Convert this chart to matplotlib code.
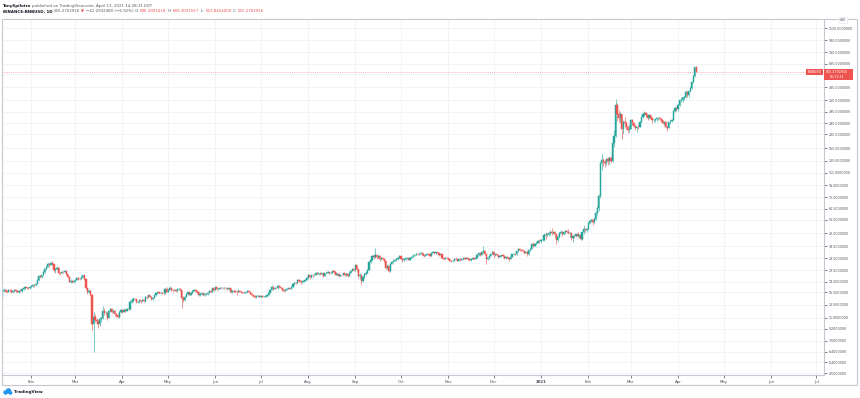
import matplotlib
matplotlib.use("Agg")
import matplotlib.pyplot as plt
import matplotlib.dates as mdates
import matplotlib.patches as patches
import numpy as np
import pandas as pd

# BINANCE:BNBUSD daily candles, 2020-01-13 .. 2021-04-13 (one list per month)
first_open = 15.3
last_open = 596.3901418

close_jan20 = [16.8, 17.2, 17.0, 16.6, 17.2, 17.0, 16.6, 16.9, 17.1, 16.8, 16.5, 16.9, 16.8, 17.3, 17.6, 17.9, 17.7, 17.6, 18.0]
high_jan20 = [17.2, 17.6, 17.5, 17.1, 17.4, 17.5, 17.1, 17.2, 17.4, 17.2, 16.9, 17.1, 17.1, 17.5, 17.9, 18.2, 18.1, 17.9, 18.3]
low_jan20 = [15.1, 16.6, 16.5, 16.2, 16.5, 16.7, 16.3, 16.4, 16.7, 16.5, 16.2, 16.4, 16.5, 16.7, 17.1, 17.4, 17.4, 17.3, 17.5]

close_feb20 = [18.3, 18.5, 18.4, 18.8, 20.1, 21.4, 21.0, 21.6, 22.8, 23.9, 24.9, 26.1, 25.6, 26.4, 26.0, 23.4, 23.9, 24.5, 22.6, 22.4,
               22.9, 22.7, 23.3, 22.0, 21.2, 19.6, 19.9, 19.6, 19.7]
high_feb20 = [18.5, 18.8, 18.7, 19.0, 20.4, 21.8, 21.6, 21.8, 23.1, 24.3, 25.2, 26.6, 26.4, 26.8, 27.3, 26.1, 24.3, 25.0, 24.8, 22.9,
              23.2, 23.0, 23.6, 23.4, 22.1, 21.4, 20.3, 20.1, 20.2]
low_feb20 = [17.8, 18.1, 18.1, 18.2, 18.7, 19.9, 20.6, 20.8, 21.5, 22.5, 23.7, 24.7, 24.9, 25.4, 25.6, 22.9, 22.6, 23.6, 22.2, 21.9,
             22.2, 22.3, 22.5, 21.7, 20.8, 19.3, 19.2, 19.2, 19.2]

close_mar20 = [20.2, 20.7, 20.5, 20.4, 21.0, 21.6, 20.4, 17.6, 16.6, 16.9, 15.9, 9.9, 11.2, 10.6, 10.4, 9.9, 10.8, 10.9, 12.3, 11.8,
               11.9, 11.0, 12.2, 12.6, 12.1, 12.2, 11.6, 11.5, 11.1, 12.1, 12.4]
high_mar20 = [20.5, 21.0, 21.0, 20.8, 21.3, 21.9, 21.7, 20.5, 17.8, 17.3, 17.1, 16.0, 12.0, 11.6, 11.0, 10.6, 11.2, 11.2, 13.3, 12.9,
              12.3, 12.0, 12.5, 12.9, 12.8, 12.6, 12.4, 11.8, 11.6, 12.3, 12.7]
low_mar20 = [19.5, 20.0, 20.1, 20.1, 20.3, 20.9, 20.0, 17.3, 16.0, 16.2, 15.5, 9.0, 6.4, 10.3, 9.9, 9.4, 9.7, 10.3, 10.8, 11.4,
             11.4, 10.6, 10.9, 12.0, 11.8, 11.9, 11.3, 11.1, 10.9, 11.0, 11.9]

close_apr20 = [12.1, 12.4, 12.3, 12.7, 12.6, 14.2, 14.3, 14.9, 14.8, 14.1, 14.2, 14.5, 14.3, 14.6, 14.4, 15.3, 15.2, 15.8, 15.4, 14.9,
               15.1, 15.7, 16.2, 16.5, 16.3, 16.4, 16.3, 16.2, 17.4, 16.7]
high_apr20 = [12.6, 12.8, 12.6, 12.9, 12.9, 14.5, 14.9, 15.2, 15.1, 14.9, 14.4, 14.7, 14.6, 14.8, 14.8, 15.5, 15.6, 16.0, 15.9, 15.5,
              15.3, 15.9, 16.4, 16.7, 16.6, 16.7, 16.6, 16.5, 17.6, 17.9]
low_apr20 = [11.8, 12.0, 12.0, 12.2, 12.4, 12.5, 13.9, 14.2, 14.5, 13.9, 13.9, 14.0, 13.9, 14.1, 14.2, 14.2, 14.9, 15.0, 15.2, 14.6,
             14.7, 15.0, 15.5, 16.0, 16.1, 16.1, 16.0, 15.9, 16.1, 16.5]

close_may20 = [17.2, 17.6, 17.1, 17.0, 17.2, 16.9, 17.3, 17.5, 17.0, 15.0, 14.6, 15.4, 16.0, 16.5, 15.9, 16.4, 16.9, 17.2, 16.8, 16.5,
               15.7, 16.1, 16.2, 15.8, 16.0, 16.0, 16.4, 16.9, 16.7, 17.6, 17.1]
high_may20 = [17.5, 18.2, 17.7, 17.3, 17.5, 17.4, 17.6, 17.8, 17.6, 17.1, 15.6, 15.6, 16.2, 16.7, 16.6, 16.6, 17.1, 17.4, 17.4, 16.9,
              16.6, 16.3, 16.4, 16.3, 16.2, 16.3, 16.6, 17.0, 17.0, 17.8, 17.8]
low_may20 = [16.5, 17.0, 16.9, 16.7, 16.8, 16.6, 16.8, 17.1, 16.8, 12.8, 14.1, 14.4, 15.2, 15.8, 15.7, 15.8, 16.3, 16.8, 16.6, 16.3,
             15.5, 15.5, 15.9, 15.6, 15.6, 15.8, 15.9, 16.3, 16.5, 16.7, 16.9]

close_jun20 = [17.9, 17.3, 17.5, 17.8, 17.6, 17.7, 17.6, 17.6, 17.4, 17.6, 16.5, 16.8, 16.9, 16.7, 16.6, 16.9, 16.7, 16.6, 16.4, 16.4,
               16.5, 16.8, 16.7, 16.1, 15.7, 15.5, 15.2, 15.5, 15.6, 15.4]
high_jun20 = [18.1, 18.0, 17.6, 17.9, 17.9, 17.8, 17.9, 17.8, 17.7, 17.8, 17.7, 17.0, 17.1, 17.0, 17.0, 17.3, 17.0, 16.9, 16.7, 16.6,
              16.7, 17.0, 17.0, 16.9, 16.2, 15.8, 15.7, 15.7, 15.8, 15.7]
low_jun20 = [17.0, 17.1, 17.2, 17.4, 17.4, 17.5, 17.4, 17.4, 17.2, 17.3, 16.2, 16.2, 16.6, 16.5, 15.9, 16.5, 16.5, 16.4, 16.2, 16.2,
             16.3, 16.4, 16.5, 16.0, 15.5, 15.3, 15.0, 15.1, 15.3, 15.2]

close_jul20 = [15.6, 15.4, 15.4, 15.6, 15.7, 16.3, 17.1, 18.0, 17.5, 17.7, 17.6, 18.3, 17.9, 17.7, 17.1, 16.9, 17.2, 17.5, 17.6, 17.5,
               18.0, 18.8, 19.2, 19.1, 20.2, 19.8, 19.5, 19.6, 19.9, 20.2, 20.9]
high_jul20 = [15.8, 15.7, 15.6, 15.7, 15.9, 16.5, 17.3, 18.4, 18.1, 17.9, 17.8, 18.5, 18.5, 18.0, 17.8, 17.3, 17.4, 17.7, 17.8, 17.7,
              18.3, 19.0, 19.5, 19.5, 20.5, 20.4, 20.2, 20.1, 20.2, 20.5, 21.4]
low_jul20 = [15.2, 15.2, 15.2, 15.3, 15.4, 15.6, 16.2, 17.0, 17.2, 17.3, 17.4, 17.5, 17.6, 17.4, 16.9, 16.6, 16.8, 17.1, 17.4, 17.3,
             17.4, 17.9, 18.6, 18.7, 19.0, 19.5, 18.8, 19.0, 19.4, 19.7, 20.1]

close_aug20 = [21.6, 21.0, 21.8, 21.6, 21.8, 22.6, 22.1, 22.4, 22.0, 22.3, 21.5, 22.3, 22.6, 22.8, 22.5, 22.6, 23.3, 22.8, 21.9, 22.2,
               21.4, 21.8, 21.7, 22.3, 21.6, 22.2, 21.5, 22.6, 23.3, 24.0, 23.4]
high_aug20 = [22.0, 21.9, 21.9, 22.0, 22.1, 22.8, 22.8, 22.6, 22.5, 22.5, 22.5, 22.5, 22.8, 23.1, 22.9, 22.8, 23.6, 23.4, 22.9, 22.4,
              22.3, 21.9, 21.9, 22.5, 22.4, 22.4, 22.3, 22.8, 23.5, 24.3, 24.1]
low_aug20 = [20.5, 20.4, 20.9, 21.2, 21.3, 21.6, 21.8, 21.9, 21.7, 21.8, 21.2, 21.3, 22.0, 22.4, 22.2, 22.2, 22.4, 22.5, 21.6, 21.7,
             21.2, 21.3, 21.5, 21.6, 21.3, 21.4, 21.2, 21.4, 22.5, 23.1, 23.1]

close_sep20 = [25.4, 23.8, 21.3, 21.7, 19.8, 21.0, 22.1, 22.6, 23.6, 26.8, 27.6, 29.3, 28.9, 29.8, 28.8, 29.5, 27.9, 28.5, 28.3, 27.4,
               24.4, 25.1, 23.2, 26.1, 26.6, 27.3, 27.6, 28.0, 28.6, 29.4]
high_sep20 = [25.9, 25.6, 24.1, 22.4, 21.9, 21.3, 22.4, 23.3, 24.0, 27.3, 28.3, 29.8, 30.4, 33.5, 30.1, 30.2, 29.9, 29.2, 28.9, 28.5,
              27.6, 25.9, 25.4, 26.5, 27.2, 27.5, 27.9, 28.4, 28.9, 29.7]
low_sep20 = [23.2, 23.1, 20.9, 20.5, 18.5, 19.6, 20.8, 21.8, 22.4, 23.5, 26.4, 27.3, 28.1, 28.6, 28.3, 28.4, 27.4, 27.6, 27.8, 26.9,
             23.8, 23.9, 22.7, 23.0, 25.8, 26.4, 27.0, 27.4, 27.8, 28.4]

close_oct20 = [28.3, 27.5, 27.9, 28.4, 28.7, 27.8, 28.6, 29.1, 29.7, 29.9, 30.4, 30.3, 30.6, 31.1, 30.5, 29.6, 29.8, 30.5, 30.3, 29.6,
               31.0, 31.5, 30.8, 31.2, 30.7, 29.8, 30.2, 28.5, 28.3, 28.7, 28.5]
high_oct20 = [29.6, 28.5, 28.1, 28.6, 29.0, 28.9, 28.8, 29.4, 30.0, 30.2, 30.7, 30.7, 30.9, 31.4, 31.2, 30.6, 30.0, 30.8, 30.8, 30.4,
              31.5, 32.0, 31.6, 31.4, 31.3, 30.9, 30.6, 30.4, 28.8, 29.0, 29.1]
low_oct20 = [27.9, 26.9, 27.3, 27.8, 28.2, 27.5, 27.6, 28.4, 28.9, 29.4, 29.8, 29.9, 30.1, 30.4, 30.1, 29.2, 29.4, 29.7, 29.9, 29.2,
             29.4, 30.7, 30.5, 30.6, 30.4, 29.5, 29.6, 28.1, 27.8, 28.0, 28.2]

close_nov20 = [28.1, 27.3, 27.0, 27.4, 28.3, 28.1, 27.4, 28.0, 27.7, 28.0, 28.6, 28.3, 28.6, 28.0, 27.6, 27.9, 28.4, 28.3, 28.7, 29.7,
               30.7, 30.1, 31.5, 31.9, 30.2, 28.3, 28.4, 29.6, 30.4, 31.3]
high_nov20 = [28.7, 28.2, 27.6, 27.7, 28.6, 28.9, 28.3, 28.2, 28.4, 28.3, 28.9, 28.9, 28.9, 28.7, 28.1, 28.1, 28.7, 28.9, 28.9, 30.1,
              31.2, 31.0, 32.1, 34.6, 32.3, 30.6, 29.2, 29.8, 30.6, 31.7]
low_nov20 = [27.8, 27.0, 26.6, 26.8, 27.2, 27.6, 27.0, 27.2, 27.4, 27.5, 27.8, 28.0, 28.1, 27.8, 27.3, 27.4, 27.8, 28.0, 28.1, 28.5,
             29.5, 29.6, 29.9, 31.0, 29.7, 26.1, 27.6, 28.3, 29.4, 30.2]

close_dec20 = [30.0, 30.4, 30.1, 29.0, 29.6, 29.9, 29.5, 28.4, 28.9, 28.6, 28.0, 28.9, 30.2, 30.5, 30.3, 31.7, 32.8, 32.6, 32.2, 31.8,
               31.0, 31.6, 30.3, 32.2, 33.0, 35.6, 34.5, 35.8, 36.4, 37.6, 37.4]
high_dec20 = [31.7, 30.7, 30.6, 30.3, 29.8, 30.1, 30.0, 29.7, 29.1, 29.1, 28.7, 29.0, 30.4, 30.8, 30.7, 31.9, 33.5, 33.4, 32.9, 32.6,
              32.2, 31.9, 31.9, 32.6, 33.4, 36.2, 36.6, 36.3, 36.9, 38.1, 38.5]
low_dec20 = [28.7, 29.6, 29.6, 28.6, 28.8, 29.3, 29.2, 28.2, 28.2, 28.2, 27.3, 27.9, 28.8, 29.9, 29.9, 30.1, 31.5, 32.1, 31.9, 31.3,
             30.3, 30.8, 29.6, 30.1, 32.0, 32.8, 33.9, 34.3, 35.5, 36.1, 36.5]

close_jan21 = [37.9, 38.3, 41.2, 40.9, 41.7, 42.3, 43.5, 42.6, 43.3, 41.9, 38.2, 40.1, 42.4, 43.2, 42.1, 42.9, 43.8, 43.5, 42.3, 42.6,
               39.0, 40.5, 40.3, 41.6, 40.7, 41.3, 38.8, 42.9, 45.3, 44.4, 45.6]
high_jan21 = [38.4, 39.2, 42.4, 43.0, 42.0, 43.1, 44.7, 46.4, 44.1, 44.2, 42.0, 41.1, 42.9, 44.8, 43.6, 43.9, 44.4, 44.8, 45.6, 43.2,
              42.8, 40.9, 41.2, 42.0, 43.4, 41.7, 41.3, 43.2, 48.1, 46.0, 46.1]
low_jan21 = [36.3, 37.2, 37.7, 38.5, 40.3, 40.6, 41.5, 41.2, 41.9, 39.4, 35.6, 37.0, 39.1, 42.0, 40.5, 41.0, 42.1, 42.4, 41.7, 39.9,
             37.9, 36.9, 39.5, 39.6, 40.1, 39.5, 37.9, 38.1, 41.7, 43.1, 43.5]

close_feb21 = [49.9, 51.2, 52.0, 50.6, 53.1, 58.9, 63.6, 76.9, 129.5, 135.5, 131.0, 129.6, 138.3, 133.8, 141.8, 134.6, 178.0, 200.0,
               330.0, 284.0, 266.1, 282.9, 224.5, 250.1, 246.2, 232.0, 221.6, 224.7]
high_feb21 = [50.9, 53.0, 53.2, 53.6, 54.0, 60.3, 65.9, 79.8, 132.0, 150.0, 140.6, 135.5, 139.9, 142.0, 144.5, 146.3, 184.0, 221.0,
              360.0, 338.0, 305.0, 294.0, 284.0, 258.0, 271.0, 252.0, 240.0, 238.0]
low_feb21 = [44.5, 48.7, 50.3, 48.2, 49.9, 52.6, 57.1, 60.8, 74.0, 117.0, 124.0, 121.0, 126.0, 126.5, 128.0, 130.0, 132.0, 168.0,
             198.0, 252.0, 248.0, 245.0, 190.0, 205.0, 231.0, 224.0, 209.0, 213.0]

close_mar21 = [256.3, 246.1, 235.0, 226.2, 231.4, 230.8, 250.2, 270.5, 283.0, 289.5, 280.0, 268.2, 277.5, 266.1, 256.3, 258.2,
               260.1, 264.5, 266.3, 263.0, 257.9, 246.4, 248.2, 232.1, 228.4, 249.0, 253.5, 258.1, 296.2, 311.0, 308.2]
high_mar21 = [262.0, 262.5, 251.0, 242.0, 236.0, 240.5, 252.0, 276.0, 288.0, 296.0, 291.0, 282.0, 281.0, 281.5, 271.0, 262.0,
              264.0, 269.0, 272.0, 270.0, 268.0, 260.0, 254.0, 255.0, 236.0, 251.0, 258.0, 262.0, 300.0, 318.0, 318.0]
low_mar21 = [222.0, 240.0, 230.0, 221.0, 212.0, 222.0, 229.0, 248.0, 265.0, 276.0, 270.0, 259.0, 262.0, 262.0, 246.0, 248.0,
             250.0, 255.0, 258.0, 255.0, 250.0, 241.0, 238.0, 228.0, 218.0, 226.0, 244.0, 250.0, 257.0, 291.0, 300.0]

close_apr21 = [330.1, 352.4, 357.0, 364.3, 372.8, 404.5, 383.4, 408.8, 432.0, 470.0, 520.0, 596.56, 555.2702916]
high_apr21 = [335.0, 356.0, 371.0, 370.0, 378.0, 415.0, 410.0, 412.0, 436.0, 478.0, 530.0, 604.0, 609.3031557]
low_apr21 = [296.0, 325.0, 343.0, 345.0, 355.0, 367.0, 370.0, 375.0, 403.0, 425.0, 465.0, 512.0, 553.8454000]

# Price scale labels shown by TradingView (535 is hidden behind the last-price tag)
price_ticks = [4.55, 5.4, 6.4, 7.6, 9.2, 11.0, 13.5, 16.5, 19.5, 23.5, 28.5, 34.5, 42.5, 52.5, 62.5, 75.0, 91.0, 111.0,
               135.0, 165.0, 205.0, 245.0, 295.0, 355.0, 435.0, 535.0, 635.0, 760.0, 920.0, 1120.0]
hidden_ticks = [535.0]
month_ticks = ["2020-02-01", "2020-03-01", "2020-04-01", "2020-05-01", "2020-06-01", "2020-07-01", "2020-08-01",
               "2020-09-01", "2020-10-01", "2020-11-01", "2020-12-01", "2021-01-01", "2021-02-01", "2021-03-01",
               "2021-04-01", "2021-05-01", "2021-06-01", "2021-07-01"]
month_labels = ["Feb", "Mar", "Apr", "May", "Jun", "Jul", "Aug", "Sep", "Oct", "Nov", "Dec", "2021",
                "Feb", "Mar", "Apr", "May", "Jun", "Jul"]

# Colors
UP_COLOR = "#26a69a"
DOWN_COLOR = "#ef5350"
GRID_COLOR = "#f0f3f8"
TEXT_COLOR = "#4a4e5a"
BORDER_COLOR = "#c5c8d0"

W, H = 860, 398

closes = np.array(close_jan20 + close_feb20 + close_mar20 + close_apr20 + close_may20 + close_jun20 + close_jul20 +
                  close_aug20 + close_sep20 + close_oct20 + close_nov20 + close_dec20 + close_jan21 + close_feb21 +
                  close_mar21 + close_apr21)
highs = np.array(high_jan20 + high_feb20 + high_mar20 + high_apr20 + high_may20 + high_jun20 + high_jul20 +
                 high_aug20 + high_sep20 + high_oct20 + high_nov20 + high_dec20 + high_jan21 + high_feb21 +
                 high_mar21 + high_apr21)
lows = np.array(low_jan20 + low_feb20 + low_mar20 + low_apr20 + low_may20 + low_jun20 + low_jul20 +
                low_aug20 + low_sep20 + low_oct20 + low_nov20 + low_dec20 + low_jan21 + low_feb21 +
                low_mar21 + low_apr21)

# Crypto trades 24/7, so each day opens at the previous close
opens = np.concatenate([[first_open], closes[:-1]])
opens[-1] = last_open
highs = np.maximum(highs, np.maximum(opens, closes))
lows = np.minimum(lows, np.minimum(opens, closes))

dates = pd.date_range("2020-01-13", periods=len(closes), freq="D")
x = mdates.date2num(dates.to_pydatetime())

plt.rcParams["font.family"] = ["DejaVu Sans"]

fig = plt.figure(figsize=(W / 100, H / 100), dpi=100)
fig.set_facecolor("white")


# pixel helpers (origin top-left like the screenshot)
def fx(px):
    return px / W


def fy(py):
    return 1 - py / H


ax = fig.add_axes([fx(2), fy(375), fx(824) - fx(2), fy(19) - fy(375)])
ax.set_facecolor("white")
ax.set_yscale("log")

# Candles: wicks then bodies
up = closes >= opens
colors = np.where(up, UP_COLOR, DOWN_COLOR)
ax.vlines(x, lows, highs, colors=colors, linewidth=0.6, alpha=0.7, zorder=3)
body_low = np.minimum(opens, closes)
body_h = np.abs(closes - opens)
ax.bar(x, body_h, bottom=body_low, width=0.8, color=colors, edgecolor=colors, linewidth=0.35, zorder=4)

# Axis limits calibrated to the screenshot (1.522 px per day, 144.3 px per decade)
base = mdates.date2num(pd.Timestamp("2021-01-01").to_pydatetime())
ax.set_xlim(base - 539 / 1.522, base + 283 / 1.522)
ax.set_ylim(10 ** (np.log10(1120) - 347 / 144.3), 10 ** (np.log10(1120) + 9 / 144.3))

# Grid
for p in price_ticks:
    ax.axhline(p, color=GRID_COLOR, linewidth=0.7, zorder=0)
tick_x = mdates.date2num(pd.to_datetime(month_ticks).to_pydatetime())
for t in tick_x:
    ax.axvline(t, color=GRID_COLOR, linewidth=0.7, zorder=0)

# Price scale on the right
ax.yaxis.tick_right()
ax.set_yticks(price_ticks)
ax.set_yticklabels(["" if p in hidden_ticks else f"{p:.7f}" for p in price_ticks])
ax.yaxis.set_minor_locator(matplotlib.ticker.NullLocator())
ax.tick_params(axis="y", which="both", right=True, left=False, length=2, width=0.5, pad=1.5,
               labelsize=2.3, colors=TEXT_COLOR)

# Month axis
ax.set_xticks(tick_x)
ax.set_xticklabels(month_labels)
ax.tick_params(axis="x", length=2, width=0.5, pad=1.5, labelsize=2.8, colors=TEXT_COLOR)
for lbl in ax.get_xticklabels():
    if lbl.get_text() == "2021":
        lbl.set_fontweight("bold")

for side in ["top", "left"]:
    ax.spines[side].set_visible(False)
ax.spines["bottom"].set_color(BORDER_COLOR)
ax.spines["right"].set_color(BORDER_COLOR)
ax.spines["bottom"].set_linewidth(0.8)
ax.spines["right"].set_linewidth(0.8)

# Last price line and tags
last = closes[-1]
ax.axhline(last, color=DOWN_COLOR, linewidth=0.5, linestyle=(0, (1.5, 1.5)), alpha=0.6, zorder=2)
price_y = H - (ax.transData.transform((x[-1], last))[1])
fig.add_artist(patches.Rectangle((fx(824), fy(price_y + 8)), fx(853) - fx(824), 11 / H,
                                 transform=fig.transFigure, facecolor=DOWN_COLOR, edgecolor="none", zorder=10))
fig.text(fx(826), fy(price_y), f"{last:.7f}", color="white", fontsize=2.3, va="center", ha="left", zorder=11)
fig.text(fx(830), fy(price_y + 5), "05:11:31", color="white", fontsize=2.3, va="center", ha="left", zorder=11)
fig.add_artist(patches.Rectangle((fx(806), fy(price_y + 3)), fx(823) - fx(806), 6 / H,
                                 transform=fig.transFigure, facecolor=DOWN_COLOR, edgecolor="none", zorder=10))
fig.text(fx(814.5), fy(price_y), "BNBUSD", color="white", fontsize=2.3, va="center", ha="center", zorder=11)

# Currency tag at top of price scale
fig.text(fx(843), fy(20), "USD", color=TEXT_COLOR, fontsize=2.2, va="center", ha="center", zorder=11,
         bbox=dict(boxstyle="square,pad=0.3", facecolor="white", edgecolor="#dfe2e8", linewidth=0.4))

# Outer frame
fig.add_artist(patches.Rectangle((fx(2), fy(385)), fx(857) - fx(2), (385 - 19) / H, transform=fig.transFigure,
                                 facecolor="none", edgecolor=BORDER_COLOR, linewidth=0.8, zorder=9))

# Header lines, drawn piece by piece so values can be coloured
renderer = fig.canvas.get_renderer()


def draw_segments(x_px, y_px, segments, size):
    cur = x_px
    for text, color, weight in segments:
        t = fig.text(fx(cur), fy(y_px), text, color=color, fontsize=size, fontweight=weight,
                     va="center", ha="left")
        bb = t.get_window_extent(renderer=renderer)
        cur = bb.x1 + 1.2


draw_segments(3, 5.5, [("TonySpilotro", "#131722", "bold"),
                       ("published on TradingView.com, April 13, 2021 14:28:31 EDT", "#555a66", "normal")], 2.9)
draw_segments(3, 11.5, [("BINANCE:BNBUSD, 1D", "#131722", "bold"),
                        ("555.2702916", "#555a66", "normal"),
                        ("▼", DOWN_COLOR, "normal"),
                        ("−41.2932480 (−6.92%)", "#555a66", "normal"),
                        ("O:", "#555a66", "normal"), ("596.3901418", DOWN_COLOR, "normal"),
                        ("H:", "#555a66", "normal"), ("609.3031557", DOWN_COLOR, "normal"),
                        ("L:", "#555a66", "normal"), ("553.8454000", DOWN_COLOR, "normal"),
                        ("C:", "#555a66", "normal"), ("555.2702916", DOWN_COLOR, "normal")], 2.9)

# TradingView footer logo
for cx, cy, r in [(5.5, 392.5, 2.2), (8.5, 391.0, 2.8), (10.5, 393.0, 1.8)]:
    fig.add_artist(patches.Ellipse((fx(cx), fy(cy)), 2 * r / W, 2 * r / H, transform=fig.transFigure,
                                   facecolor="#2196f3", edgecolor="none"))
fig.text(fx(14), fy(392), "TradingView", color="#131722", fontsize=3.0, fontweight="bold", va="center", ha="left")

fig.savefig("out.png", dpi=100, facecolor="white")
